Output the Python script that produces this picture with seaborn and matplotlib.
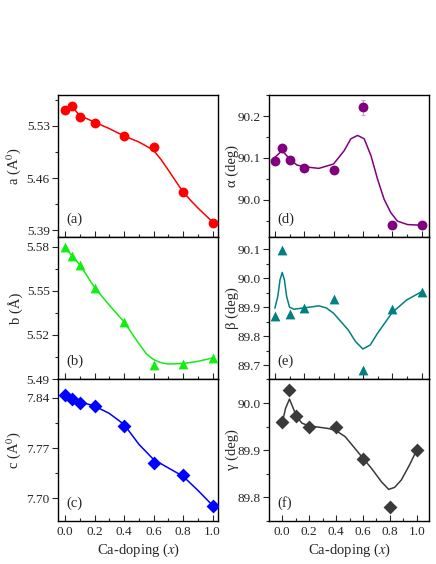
import matplotlib
matplotlib.use("Agg")
import matplotlib.pyplot as plt
import matplotlib.ticker as mticker
import seaborn as sns

# Ca-doping values
doping = [0.0, 0.05, 0.1, 0.2, 0.4, 0.6, 0.8, 1.0]

# lattice parameters
a_pts = [5.5515, 5.557, 5.5417, 5.5345, 5.5165, 5.502, 5.441, 5.400]
b_pts = [5.5795, 5.5736, 5.5675, 5.5516, 5.5289, 5.4993, 5.5005, 5.5043]
c_pts = [7.8437, 7.8377, 7.8321, 7.8284, 7.8005, 7.7493, 7.7321, 7.6888]
alpha_pts = [90.093, 90.123, 90.094, 90.077, 90.072, 90.221, 89.939, 89.939]
beta_pts = [89.868, 90.095, 89.877, 89.897, 89.928, 89.684, 89.893, 89.953]
gamma_pts = [89.960, 90.028, 89.972, 89.950, 89.949, 89.881, 89.779, 89.901]
alpha_err_x = [0.6]
alpha_err_y = [90.221]
alpha_err = [0.019]

# guide-to-the-eye curves
a_fit_x = [0.0, 0.05, 0.1, 0.2, 0.3, 0.4, 0.5, 0.55, 0.6, 0.65, 0.7, 0.75, 0.8, 0.85, 0.9, 0.95, 1.0]
a_fit_y = [5.553, 5.555, 5.544, 5.535, 5.5264, 5.5165, 5.5085, 5.503, 5.4972, 5.4851, 5.4708,
           5.456, 5.4416, 5.4304, 5.4201, 5.4106, 5.4012]
b_fit_x = [0.0, 0.1, 0.2, 0.3, 0.4, 0.5, 0.55, 0.6, 0.65, 0.7, 0.8, 0.9, 1.0]
b_fit_y = [5.5795, 5.5677, 5.5523, 5.5402, 5.5289, 5.5141, 5.5073, 5.5032, 5.5011, 5.5002,
           5.5005, 5.5020, 5.5043]
c_fit_x = [0.0, 0.1, 0.2, 0.3, 0.4, 0.5, 0.6, 0.7, 0.8, 0.9, 1.0]
c_fit_y = [7.8414, 7.8344, 7.8284, 7.8181, 7.8028, 7.7753, 7.754, 7.7423, 7.7307, 7.7112, 7.6902]
alpha_fit_x = [0.0, 0.05, 0.1, 0.15, 0.2, 0.3, 0.4, 0.473, 0.518, 0.564, 0.609, 0.655, 0.70,
               0.745, 0.791, 0.836, 0.905, 1.0]
alpha_fit_y = [90.1016, 90.1177, 90.0976, 90.0831, 90.079, 90.075, 90.0855, 90.1177, 90.146,
               90.154, 90.146, 90.1056, 90.0492, 90.0008, 89.9685, 89.9484, 89.9403, 89.9387]
beta_fit_x = [0.0, 0.02, 0.035, 0.05, 0.065, 0.08, 0.1, 0.13, 0.2, 0.3, 0.35, 0.4, 0.5, 0.55,
              0.6, 0.65, 0.7, 0.8, 0.9, 1.0]
beta_fit_y = [89.8966, 89.9368, 89.994, 90.0195, 89.994, 89.937, 89.9, 89.893, 89.8977, 89.9046,
              89.8977, 89.8793, 89.8218, 89.7816, 89.7563, 89.77, 89.8103, 89.8816, 89.9253, 89.9529]
gamma_fit_x = [0.0, 0.025, 0.054, 0.086, 0.106, 0.147, 0.197, 0.27, 0.344, 0.398, 0.467, 0.54,
               0.595, 0.663, 0.737, 0.791, 0.835, 0.885, 0.946, 1.0]
gamma_fit_y = [89.9574, 89.989, 90.0085, 89.986, 89.9716, 89.9574, 89.9518, 89.949, 89.946,
               89.9418, 89.929, 89.904, 89.885, 89.8617, 89.8333, 89.817, 89.8213, 89.837,
               89.869, 89.9007]

sns.set_style("ticks")
plt.rcParams["font.family"] = ["Liberation Serif", "DejaVu Serif"]
plt.rcParams["mathtext.fontset"] = "stix"

fig = plt.figure(figsize=(4.36, 5.64), dpi=100)

LEFT_X, RIGHT_X, W = 0.133, 0.617, 0.368
ROW_B = [0.5798, 0.328, 0.0762]
H = 0.2518

panels = [
    # (col x, row, pts, fit x, fit y, color, marker, ylabel, tag, ylim, ymaj, xlim)
    (LEFT_X, 0, a_pts, a_fit_x, a_fit_y, "#ff0000", "o", r"a (A$^0$)", "(a)",
     (5.381, 5.5715), [5.39, 5.46, 5.53], (-0.048, 1.04)),
    (LEFT_X, 1, b_pts, b_fit_x, b_fit_y, "#11ee11", "^", "b (Å)", "(b)",
     (5.49, 5.5866), [5.49, 5.52, 5.55, 5.58], (-0.048, 1.04)),
    (LEFT_X, 2, c_pts, c_fit_x, c_fit_y, "#0000ff", "D", r"c (A$^0$)", "(c)",
     (7.6684, 7.866), [7.70, 7.77, 7.84], (-0.048, 1.04)),
    (RIGHT_X, 0, alpha_pts, alpha_fit_x, alpha_fit_y, "#800080", "o", "α (deg)", "(d)",
     (89.9105, 90.251), [90.0, 90.1, 90.2], (-0.04, 1.054)),
    (RIGHT_X, 1, beta_pts, beta_fit_x, beta_fit_y, "#008080", "^", "β (deg)", "(e)",
     (89.653, 90.1414), [89.7, 89.8, 89.9, 90.0, 90.1], (-0.04, 1.054)),
    (RIGHT_X, 2, gamma_pts, gamma_fit_x, gamma_fit_y, "#3a3a3a", "D", "γ (deg)", "(f)",
     (89.75, 90.051), [89.8, 89.9, 90.0], (-0.098, 1.094)),
]

for col_x, row, pts, fx, fy, color, marker, ylab, tag, ylim, ymaj, xlim in panels:
    ax = fig.add_axes([col_x, ROW_B[row], W, H])

    sns.lineplot(x=fx, y=fy, color=color, linewidth=1.1, ax=ax)
    if tag == "(d)":
        ax.errorbar(alpha_err_x, alpha_err_y, yerr=alpha_err, fmt="none",
                    ecolor="#d8a0d8", elinewidth=0.8, capsize=1.5)
    sns.scatterplot(x=doping, y=pts, color=color, marker=marker, s=50,
                    linewidth=0, ax=ax, zorder=3)

    ax.set_xlim(*xlim)
    ax.set_ylim(*ylim)
    ax.xaxis.set_major_locator(mticker.MultipleLocator(0.2))
    ax.xaxis.set_minor_locator(mticker.MultipleLocator(0.1))
    ax.yaxis.set_major_locator(mticker.FixedLocator(ymaj))
    step = ymaj[1] - ymaj[0]
    ax.yaxis.set_minor_locator(mticker.MultipleLocator(step / 2))
    ax.yaxis.set_major_formatter(mticker.FormatStrFormatter("%.2f" if col_x == LEFT_X else "%.1f"))

    ax.tick_params(axis="x", which="both", direction="in", top=False, labelsize=9.5)
    ax.tick_params(axis="y", which="both", direction="out", right=False, labelsize=9.5, pad=2)
    ax.tick_params(which="major", length=4, width=0.8)
    ax.tick_params(which="minor", length=2.5, width=0.8)

    for sp in ax.spines.values():
        sp.set_visible(True)
        sp.set_linewidth(1.0)
        sp.set_color("black")

    ax.set_ylabel(ylab, fontsize=10.5)
    # label coords give the right edge of the rotated label
    ax.yaxis.set_label_coords(-0.215 if col_x == LEFT_X else -0.19, 0.5)
    ax.text(0.055, 0.125, tag, transform=ax.transAxes, ha="left", va="center", fontsize=10.5)

    if row == 2:
        ax.set_xlabel(r"Ca-doping ($x$)", fontsize=10.5, labelpad=3)
        ax.xaxis.set_major_formatter(mticker.FormatStrFormatter("%.1f"))
    else:
        ax.set_xlabel("")
        ax.tick_params(axis="x", labelbottom=False)

plt.savefig("out.png", dpi=100)
plt.close()
